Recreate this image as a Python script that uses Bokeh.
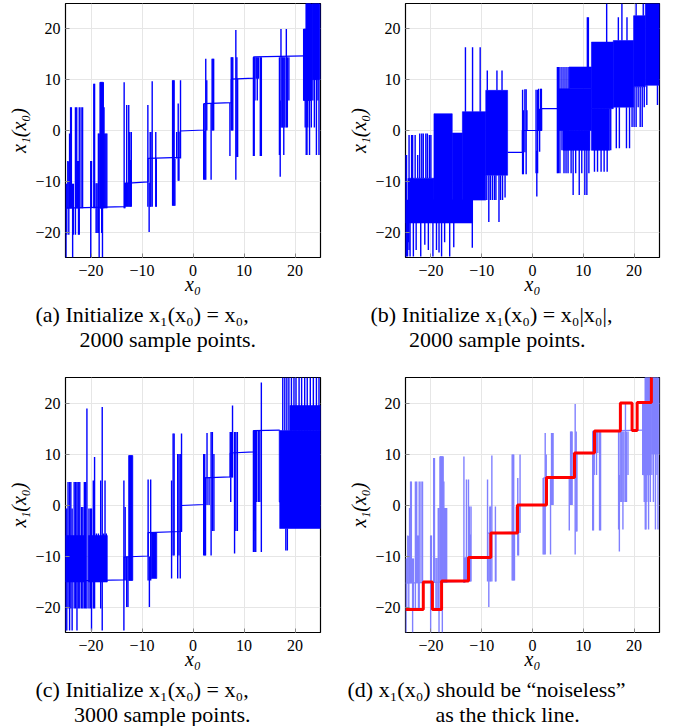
from bokeh.plotting import figure
from bokeh.layouts import column, row
from bokeh.models import Title, FixedTicker, Range1d
from bokeh.embed import file_html
from bokeh.resources import INLINE

# ---------------- tick labels ----------------
ticks = [-20, -10, 0, 10, 20]
tick_labels = {-20: "\u221220", -10: "\u221210", 0: "0", 10: "10", 20: "20"}

# ---------------- panel (a) / (d): base line, dense blocks and spikes ----------------
A_base_x = [-25.0, -13.4, -13.4, -8.8, -8.8, -2.5, -2.5, 2.2, 2.2, 7.5, 7.5, 11.9, 11.9, 22.0]
A_base_y = [-15.3, -15.0, -10.4, -10.1, -5.5, -5.3, -0.1, 0.1, 5.3, 5.5, 10.1, 10.3, 14.5, 14.7]
A_blk_x0 = [21.7, 22.2, 23.4, -18.2]
A_blk_x1 = [22.2, 23.1, 24.7, -17.6]
A_blk_lo = [5.9, 5.9, 10.0, -15.3]
A_blk_hi = [20.0, 25.0, 25.0, 9.5]
A_sp_x = [-24.9, -24.75, -24.55, -24.35, -24.2, -24.0, -23.85, -23.6, -23.45, -23.05, -22.8, -22.65, -22.45, -22.3, -21.95, -21.65,
          -20.05, -19.9, -19.45, -19.3, -19.0, -18.8, -18.55, -18.4, -18.2, -18.05, -17.9, -17.75, -17.6, -17.45, -17.3, -17.1, -16.9,
          -13.5, -13.35, -13.2, -13.0, -12.8, -12.6, -12.4, -12.25, -12.1,
          -8.85, -8.6, -8.4, -8.25, -8.0, -7.3, -7.2,
          -4.0, -3.85, -3.7, -3.55, -3.2, -2.9, -2.75, -2.45,
          2.1, 2.3, 2.5, 2.7, 3.55, 3.75, 3.9, 4.05,
          7.24, 7.5, 7.65, 7.8, 8.4, 8.6, 8.75,
          11.85, 12.0, 12.15, 12.4, 12.6, 12.85, 13.2, 13.4,
          16.95, 17.1, 17.25, 17.45, 17.6, 17.8, 18.0, 18.3, 18.5, 18.8,
          21.7, 21.85, 22.0, 22.2, 22.35, 22.5, 22.65, 22.85, 23.0, 23.2, 23.5, 23.8, 24.0, 24.2, 24.5, 24.7, 24.9]
A_sp_lo = [-25, -20.5, -15.3, -20.5, -15.3, -15.3, -15.3, -25, -20.5, -20.5, -15.3, -15.3, -20.5, -20.5, -15.3, -15.3,
           -25, -15.3, -15.3, -15.3, -20.2, -20.2, -20.2, -25, -15.3, -15.3, -20.2, -25, -15.3, -15.3, -15.3, -15.3, -15.3,
           -15.3, -15.3, -15.0, -15.0, -15.0, -15.0, -15.0, -15.0, -15.0,
           -15.0, -20.0, -15.0, -15.0, -15.0, -15.0, -15.0,
           -14.8, -14.8, -14.8, -14.8, -5.5, -9.9, -9.9, -5.5,
           -9.7, -9.7, -9.7, 0, -9.7, 0, 0, 0,
           -5.0, 0, 0, 0, -9.7, -5.2, -5.2,
           -5.0, -5.0, 5.9, 10.2, 5.9, 10.2, -5.0, -5.0,
           -4.8, -9.1, 0.6, 0.6, 0.6, -4.8, 0.6, 0.6, 0.6, 5.9,
           5.9, 5.9, 0.6, -4.8, -4.8, 0.6, 5.9, -4.8, 5.9, 0.6, 5.9, 0.6, 10.0, -4.8, 5.9, -4.8, 10.0]
A_sp_hi = [-10.5, -10.5, -6.0, -6.1, -0.6, 4.6, 4.6, -10.5, -10.5, 4.6, 4.6, -6.0, -6.0, 4.6, 4.6, 4.6,
           -6.0, -6.0, 9.2, 9.2, -10.4, -10.4, -0.6, -0.6, 9.5, 9.5, 9.5, 4.6, 9.5, 4.6, -0.6, -0.6, -0.6,
           9.5, -10.4, -10.3, 5.0, -10.3, 5.0, -0.3, -5.8, -0.3,
           5.0, -10.3, -0.3, -0.3, 9.7, -0.3, -5.5,
           9.9, 9.9, 9.9, -5.5, -0.3, 5.3, -0.3, 9.9,
           5.3, 0, 14.1, 9.9, 5.3, 14.1, 14.1, 14.1,
           5.4, 14.4, 14.4, 14.4, 19.8, 14.4, 10.2,
           14.4, 14.4, 14.4, 14.4, 14.4, 14.4, 14.4, 14.4,
           14.4, 5.9, 20.0, 14.4, 14.4, 14.4, 14.4, 20.0, 14.4, 14.4,
           20, 20, 20, 25, 25, 25, 25, 25, 25, 25, 25, 25, 25, 25, 25, 25, 25]

# ---------------- panel (b) ----------------
B_base_x = [-4.9, -2.0, -2.0, 0.7, 0.7, 1.8, 1.8, 4.9]
B_base_y = [-4.3, -4.3, 0.0, 0.0, 0.0, 0.0, 4.3, 4.3]
B_blk_x0 = [-25.0, -24.3, -19.4, -15.8, -13.8, -9.2, 5.1, 7.2, 6.0, 11.6, 11.6, 15.9, 19.9, 22.2]
B_blk_x1 = [-11.8, -19.4, -15.8, -13.8, -9.2, -4.9, 11.6, 11.6, 11.3, 15.9, 15.2, 19.9, 22.2, 25.0]
B_blk_lo = [-18.2, -13.7, -13.7, -13.7, -13.7, -8.8, 0.0, 8.2, -3.9, 4.3, -3.9, 4.6, 8.6, 8.9]
B_blk_hi = [-13.7, -9.4, 3.3, -0.5, 3.7, 7.9, 8.2, 12.5, 0.0, 17.4, 4.3, 17.7, 22.6, 25.0]
B_sp_x = [-24.95, -24.8, -24.6, -24.45, -24.3, -24.1, -23.8, -23.6, -23.45, -23.1, -22.9, -22.6, -22.2, -22.0, -21.8, -21.5,
          -21.2, -21.0, -20.7, -20.5, -20.3, -20.0, -19.6, -18.9, -18.4, -17.9, -17.3, -16.3, -15.5,
          -13.2, -11.8, -10.3, -11.85, -8.9, -7.0, -6.0, -8.6, -6.6,
          -9.0, -8.3, -7.9, -7.5, -7.2, -6.3, -5.9, -5.4,
          -1.95, -1.8, -1.5, -1.25, -1.1,
          0.7, 0.85, 1.0, 1.2, 1.4, 1.6, 1.75,
          4.9, 5.1, 5.4, 5.8, 6.2, 6.6, 7.0,
          7.6, 8.0, 8.5, 9.2, 9.7, 10.3, 10.7, 11.1, 10.8, 11.0,
          12.2, 12.8, 13.5, 14.1, 14.7, 15.4, 14.6,
          16.5, 17.1, 18.5, 19.1, 19.6, 16.9, 17.6, 18.6,
          20.0, 20.4, 20.8, 21.2, 21.6, 22.0, 20.4, 21.8, 22.5, 24.6]
B_sp_lo = [-24.8, -24.8, -24.8, -22.0, -23.5, -24.8, -18.2, -13.7, -24.8, -9.4, -23.5, -9.4, -9.4, -24.8, -9.4, -9.4,
           -22.5, -9.4, -9.4, -23.5, -9.4, -9.4, -24.8, -23.5, -24.0, -24.8, -22.0, -24.8, -23.0,
           3.7, 3.7, 3.7, -23.1, 7.9, 7.9, 7.9, -18.0, -18.0,
           -13.7, -13.7, -13.7, -13.7, -13.7, -13.7, -13.7, -13.2,
           -8.6, -8.6, -4.3, -8.6, 0.0,
           -8.4, -13.0, -8.4, 0.0, -4.2, 0.0, 0.0,
           -8.4, -8.4, -8.4, -3.9, -8.4, -8.4, -8.4,
           -8.4, -12.7, -8.4, -12.7, -8.4, -12.7, -12.7, -8.4, 12.5, 12.5,
           -8.1, -8.1, -8.1, -8.1, -8.1, -3.9, 17.4,
           -3.5, -3.5, -3.5, -3.5, 0.7, 17.7, 17.7, 17.7,
           0.7, 0.7, 4.6, 0.7, 0.7, 4.6, 22.6, 22.6, 5.0, 5.0]
B_sp_hi = [-4.8, -4.8, -13.7, -9.4, -0.9, -13.7, -0.9, -0.9, -13.7, -0.9, -13.7, -4.8, -0.6, -18.0, -0.6, -0.6,
           -18.0, -0.6, -0.6, -18.0, -0.9, -0.9, -18.0, -18.0, -18.0, -18.0, -18.0, -18.0, -18.0,
           16.4, 16.4, 16.4, -13.7, 11.8, 11.8, 11.8, -8.8, -8.8,
           -8.8, -8.8, -8.8, -8.8, -8.8, -8.8, -8.8, -8.8,
           8.0, 4.0, 8.1, 8.1, 4.0,
           8.0, -4.0, 8.0, 8.2, 4.3, 8.2, 8.2,
           12.5, 12.5, 12.5, 12.5, 12.5, 12.5, 12.5,
           0.0, 0.0, 0.0, 0.0, 0.0, 0.0, 0.0, 0.0, 22.3, 22.3,
           4.3, 4.3, 4.3, 4.3, 4.3, 4.3, 25.0,
           4.6, 4.6, 4.6, 4.6, 4.6, 22.3, 25.0, 22.3,
           8.6, 8.6, 8.6, 8.6, 8.6, 8.9, 25.0, 25.0, 8.9, 8.9]

# ---------------- panel (c) ----------------
C_base_x = [-25.0, -13.5, -13.5, -8.8, -8.8, -2.3, -2.3, 2.1, 2.1, 7.3, 7.3, 11.9, 11.9, 17.0]
C_base_y = [-14.9, -14.7, -10.2, -10.0, -5.4, -5.2, -0.1, 0.1, 5.3, 5.5, 10.2, 10.4, 14.6, 14.7]
C_blk_x0 = [-25.0, -20.5, -12.6, -8.2, 16.9, 17.0, 19.0]
C_blk_x1 = [-21.05, -16.8, -11.8, -7.1, 25.0, 25.0, 25.0]
C_blk_lo = [-15.1, -15.1, -14.8, -14.4, 0.6, -4.6, 14.6]
C_blk_hi = [-6.0, -6.0, 9.7, -5.5, 14.6, 0.6, 19.5]
C_sp_x = [-25.0, -24.75, -24.5, -24.2, -23.95, -23.7, -23.3, -23.0, -22.75, -22.5, -22.2, -21.85, -21.6, -21.3, -21.05,
          -20.8, -20.4, -20.1, -19.9, -19.55, -19.3, -18.95, -18.55, -18.1, -17.8, -17.5, -17.25, -17.0,
          -13.55, -13.3, -13.0, -12.75, -12.5, -12.25, -12.05,
          -8.8, -8.55, -8.3,
          -4.2, -3.9, -3.7, -3.0, -2.75, -2.5, -2.25,
          2.1, 2.3, 2.45, 2.75, 3.15, 3.55, 3.8, 4.1,
          7.4, 7.3, 7.45, 7.6, 7.75, 8.15, 8.4, 8.7,
          11.85, 12.0, 12.15, 12.3, 12.45, 12.8, 13.1, 13.4,
          17.6, 18.0, 18.4, 18.8, 19.3, 19.8, 20.2, 20.8, 21.3, 21.9, 22.4, 23.0, 23.6, 24.2, 24.7,
          18.2, 18.5]
C_sp_lo = [-24.6, -24.6, -20.3, -24.6, -20.3, -24.6, -20.3, -20.3, -24.6, -20.3, -20.3, -20.3, -20.3, -20.3, -20.3,
           -20.3, -20.3, -20.3, -24.6, -20.3, -20.3, -15.1, -15.1, -20.3, -24.6, -15.1, -15.1, -15.1,
           -24.6, -14.8, -20.0, -20.0, -14.8, -14.8, -14.8,
           -14.8, -20.0, -14.8,
           -14.4, -9.9, -9.9, -14.4, -9.9, -14.4, -5.3,
           -9.9, -9.9, -9.9, 0.0, 0.0, -9.9, -5.1, -5.1,
           0.6, 5.4, 5.4, 5.4, 5.4, -9.5, -5.1, -5.1,
           -9.2, -9.2, -5.0, -9.2, 0.6, 0.6, 0.6, -9.2,
           14.6, 14.6, 14.6, 14.6, 14.6, 14.6, 14.6, 14.6, 14.6, 14.6, 14.6, 14.6, 14.6, 14.6, 14.6,
           -8.9, -8.9]
C_sp_hi = [-0.7, -0.7, 4.5, 4.5, 4.5, -0.7, 4.5, 4.5, 4.5, 4.5, 4.5, -0.4, -0.4, 4.5, 4.5,
           18.9, -0.7, -0.7, -0.7, 4.8, 9.4, -5.6, -5.6, 4.8, 19.2, -5.6, 4.8, -5.6,
           4.8, -0.4, -10.1, -10.1, 9.7, 9.7, 9.7,
           5.0, -10.1, 5.0,
           4.8, 14.0, 14.0, 10.0, 10.0, 10.0, 14.0,
           10.0, 10.0, 5.4, 14.1, 5.4, 14.3, 14.3, 10.0,
           5.4, 14.3, 14.3, 14.3, 19.5, 14.3, 14.3, 14.3,
           14.6, 14.6, 14.6, 14.6, 14.6, 14.6, 14.6, 24.0,
           25, 25, 25, 25, 25, 25, 25, 25, 25, 25, 25, 25, 25, 25, 25,
           -4.6, -4.6]

# ---------------- panel (d): "noiseless" thick line ----------------
D_edges = [-25.0, -21.5, -19.7, -17.9, -12.6, -8.2, -2.95, 2.76, 8.27, 12.2, 17.3, 19.6, 20.6, 23.4, 25.0]
D_levels = [-20.5, -15.1, -20.5, -14.9, -10.3, -5.5, 0.0, 5.4, 10.2, 14.5, 20.0, 14.6, 20.1, 26.0]

captions = {
    "a": ["(a) Initialize x\u2081(x\u2080) = x\u2080,", "2000 sample points."],
    "b": ["(b) Initialize x\u2081(x\u2080) = x\u2080|x\u2080|,", "2000 sample points."],
    "c": ["(c) Initialize x\u2081(x\u2080) = x\u2080,", "3000 sample points."],
    "d": ["(d) x\u2081(x\u2080) should be \u201cnoiseless\u201d", "as the thick line."],
}
# horizontal offset of line 1 (px) and indent of line 2 (in no-break spaces)
cap_offsets = {"a": (-30, 8), "b": (-35, 7), "c": (-30, 7), "d": (-58, 16)}

SERIF = "Liberation Serif"
BLUE = "#0000ff"
LIGHT = "#8080ff"


def make_fig(key, left, right, top, fw, fh, h):
    p = figure(frame_width=fw, frame_height=fh,
               x_range=Range1d(-25, 25), y_range=Range1d(-25, 25),
               output_backend="svg", toolbar_location=None,
               min_border_left=left, min_border_right=right,
               min_border_top=top, min_border_bottom=h - fh - top)
    p.outline_line_color = "black"
    p.outline_line_width = 1.2
    p.outline_line_alpha = 1.0
    for ax in (p.xaxis[0], p.yaxis[0]):
        ax.ticker = FixedTicker(ticks=ticks)
        ax.major_label_overrides = tick_labels
        ax.axis_line_color = None
        ax.major_tick_in = 4
        ax.major_tick_out = 0
        ax.major_tick_line_color = "#888888"
        ax.minor_tick_line_color = None
        ax.major_label_text_font = SERIF
        ax.major_label_text_font_size = "16px"
        ax.major_label_text_color = "black"
        ax.axis_label_text_font = SERIF
        ax.axis_label_text_font_style = "italic"
        ax.axis_label_text_font_size = "20px"
        ax.axis_label_text_color = "black"
    p.xaxis.axis_label = "x\u2080"
    p.yaxis.axis_label = "x\u2081(x\u2080)"
    p.xaxis.major_label_standoff = 7
    p.xaxis.axis_label_standoff = -6
    p.yaxis.major_label_standoff = 5
    p.yaxis.axis_label_standoff = 2
    p.grid.grid_line_color = "#e6e6e6"
    p.grid.grid_line_width = 1
    l1, l2 = captions[key]
    o1, ind = cap_offsets[key]
    text = l1 + "\n" + "\u00a0" * ind + l2
    p.add_layout(Title(text=text, align="left", offset=o1, standoff=5,
                       text_font=SERIF, text_font_size="22px", text_font_style="normal",
                       text_line_height=1.0, text_color="black"), "below")
    return p


def draw_noisy(p, bx, by, sx, slo, shi, color, blocks=None):
    if blocks is not None:
        x0, x1, lo, hi = blocks
        p.quad(left=x0, right=x1, bottom=lo, top=hi, fill_color=color,
               line_color=color, line_width=0.6)
    p.segment(x0=sx, y0=slo, x1=sx, y1=shi, line_color=color, line_width=1.4)
    p.line(bx, by, line_color=color, line_width=1.2)


H1, H2 = 377, 345
pa = make_fig("a", 65, 20, 3, 255, 254, H1)
pb = make_fig("b", 65, 10, 3, 254, 254, H1)
pc = make_fig("c", 65, 20, 0, 255, 255, H2)
pd = make_fig("d", 65, 10, 0, 254, 255, H2)

draw_noisy(pa, A_base_x, A_base_y, A_sp_x, A_sp_lo, A_sp_hi, BLUE,
           (A_blk_x0, A_blk_x1, A_blk_lo, A_blk_hi))
draw_noisy(pb, B_base_x, B_base_y, B_sp_x, B_sp_lo, B_sp_hi, BLUE,
           (B_blk_x0, B_blk_x1, B_blk_lo, B_blk_hi))
draw_noisy(pc, C_base_x, C_base_y, C_sp_x, C_sp_lo, C_sp_hi, BLUE,
           (C_blk_x0, C_blk_x1, C_blk_lo, C_blk_hi))
draw_noisy(pd, A_base_x, A_base_y, A_sp_x, A_sp_lo, A_sp_hi, LIGHT,
           (A_blk_x0, A_blk_x1, A_blk_lo, A_blk_hi))
pd.step(x=D_edges, y=D_levels + [D_levels[-1]], mode="after",
        line_color="#ff0000", line_width=3)

layout = column(row(pa, pb), row(pc, pd))

open("out.html", "w").write(file_html(layout, INLINE))
